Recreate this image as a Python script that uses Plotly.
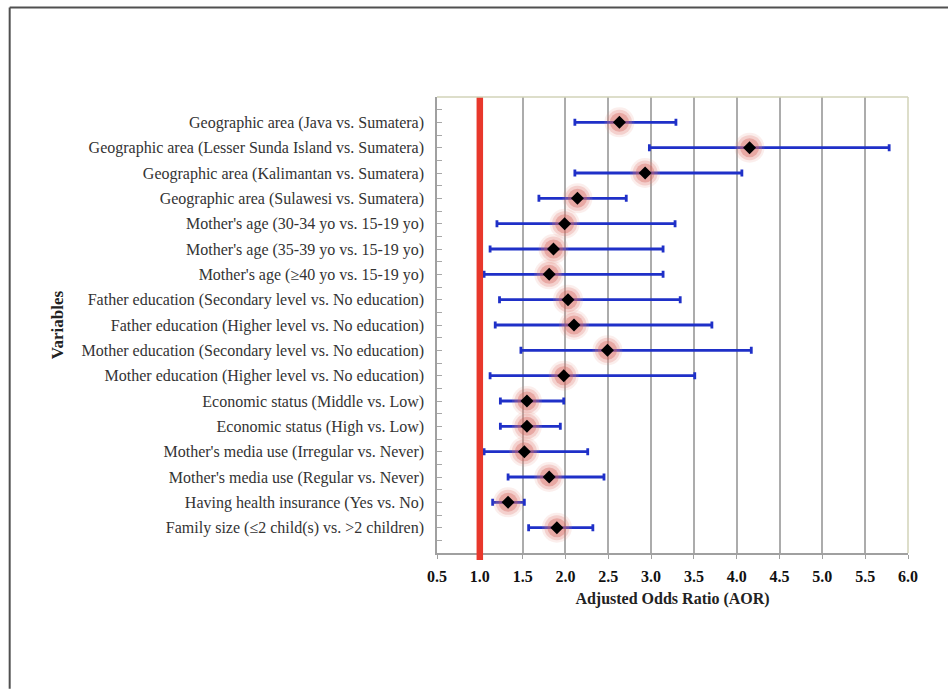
import plotly.graph_objects as go

categories = [
    "Geographic area (Java vs. Sumatera)",
    "Geographic area (Lesser Sunda Island vs. Sumatera)",
    "Geographic area (Kalimantan vs. Sumatera)",
    "Geographic area (Sulawesi vs. Sumatera)",
    "Mother's age (30-34 yo vs. 15-19 yo)",
    "Mother's age (35-39 yo vs. 15-19 yo)",
    "Mother's age (≥40 yo vs. 15-19 yo)",
    "Father education (Secondary level vs. No education)",
    "Father education (Higher level vs. No education)",
    "Mother education (Secondary level vs. No education)",
    "Mother education (Higher level vs. No education)",
    "Economic status (Middle vs. Low)",
    "Economic status (High vs. Low)",
    "Mother's media use (Irregular vs. Never)",
    "Mother's media use (Regular vs. Never)",
    "Having health insurance (Yes vs. No)",
    "Family size (≤2 child(s) vs. >2 children)",
]
aor = [2.63, 4.15, 2.93, 2.14, 1.99, 1.86, 1.81, 2.03, 2.10, 2.49, 1.98,
       1.55, 1.55, 1.52, 1.81, 1.33, 1.90]
lower = [2.11, 2.98, 2.11, 1.69, 1.20, 1.12, 1.05, 1.23, 1.18, 1.48, 1.12,
         1.24, 1.24, 1.05, 1.33, 1.15, 1.57]
upper = [3.29, 5.78, 4.06, 2.71, 3.28, 3.14, 3.14, 3.34, 3.71, 4.17, 3.51,
         1.98, 1.94, 2.26, 2.45, 1.52, 2.32]
x_ticks = [0.5, 1.0, 1.5, 2.0, 2.5, 3.0, 3.5, 4.0, 4.5, 5.0, 5.5, 6.0]
reference_value = 1.0

ypos = list(range(len(categories)))
err_plus = [u - a for u, a in zip(upper, aor)]
err_minus = [a - l for a, l in zip(aor, lower)]

# geometry (pixels) for frame lines
W, H = 948, 689
L, R, T, B = 436.5, 907.7, 96.5, 553.0
def px_x(px):
    return (px - L) / (R - L)
def px_y(py):
    return (B - py) / (B - T)

fig = go.Figure()
fig.add_trace(go.Scatter(
    x=aor, y=ypos, mode="markers",
    marker=dict(size=2, color="rgba(0,0,0,0)"),
    error_x=dict(type="data", symmetric=False, array=err_plus, arrayminus=err_minus,
                 color="#1f30c8", thickness=2.8, width=3.5),
    hoverinfo="skip", showlegend=False))
for size, col in [(30, "rgba(228,140,130,0.15)"), (25, "rgba(222,120,110,0.25)"),
                  (19, "rgba(210,95,85,0.35)")]:
    fig.add_trace(go.Scatter(
        x=aor, y=ypos, mode="markers",
        marker=dict(size=size, color=col, line=dict(width=0)),
        hoverinfo="skip", showlegend=False))
fig.add_trace(go.Scatter(
    x=aor, y=ypos, mode="markers",
    marker=dict(symbol="diamond", size=10, color="black", line=dict(width=0)),
    showlegend=False))

# y ticks every half category
tickvals = []
ticktext = []
for i in range(-2, 2 * len(categories) + 2):
    v = i / 2
    tickvals.append(v)
    if i % 2 == 0 and 0 <= i // 2 < len(categories):
        ticktext.append(categories[i // 2])
    else:
        ticktext.append("")

shapes = [
    # reference line
    dict(type="line", xref="x", yref="paper", x0=reference_value, x1=reference_value,
         y0=px_y(560), y1=1, line=dict(color="#e8372b", width=6.5), layer="above"),
    # top & right plot borders
    dict(type="line", xref="paper", yref="paper", x0=0, x1=1, y0=1, y1=1,
         line=dict(color="#d2d3b8", width=1.5), layer="above"),
    dict(type="line", xref="paper", yref="paper", x0=1, x1=1, y0=0, y1=1,
         line=dict(color="#d2d3b8", width=1.5), layer="above"),
    # outer frame
    dict(type="line", xref="paper", yref="paper", x0=px_x(9), x1=px_x(W), y0=px_y(7), y1=px_y(7),
         line=dict(color="#505050", width=2)),
    dict(type="line", xref="paper", yref="paper", x0=px_x(9), x1=px_x(9), y0=px_y(7), y1=px_y(H),
         line=dict(color="#505050", width=2)),
]

fig.update_layout(
    width=W, height=H,
    margin=dict(l=L, r=W - R, t=T, b=H - B),
    paper_bgcolor="white", plot_bgcolor="white",
    font=dict(family="Liberation Serif", color="#333333"),
    shapes=shapes,
    xaxis=dict(
        range=[0.5, 6.0], tickvals=x_ticks, ticktext=[f"{v:.1f}" for v in x_ticks],
        showgrid=True, gridcolor="#acacac", gridwidth=1.5,
        showline=True, linecolor="#a0a0a0", linewidth=2,
        ticks="outside", ticklen=4, tickcolor="#a0a0a0",
        ticklabelstandoff=4,
        tickfont=dict(family="Liberation Serif", size=16, color="#111111", weight="bold"),
        title=dict(text="<b>Adjusted Odds Ratio (AOR)</b>", standoff=9,
                   font=dict(family="Liberation Serif", size=16, color="#222222")),
        zeroline=False, fixedrange=True),
    yaxis=dict(
        range=[17, -1], tickmode="array", tickvals=tickvals, ticktext=ticktext,
        showgrid=False, zeroline=False,
        showline=True, linecolor="#a0a0a0", linewidth=1.5,
        ticks="inside", ticklen=5, tickcolor="#a8a8a8",
        ticklabelstandoff=8,
        tickfont=dict(family="Liberation Serif", size=16, color="#333333"),
        title=dict(text="<b>Variables</b>", standoff=14,
                   font=dict(family="Liberation Serif", size=17, color="#222222")),
        fixedrange=True),
)

fig.write_html("out.html", config={"displayModeBar": False},
               post_script="document.body.style.margin='0';")
